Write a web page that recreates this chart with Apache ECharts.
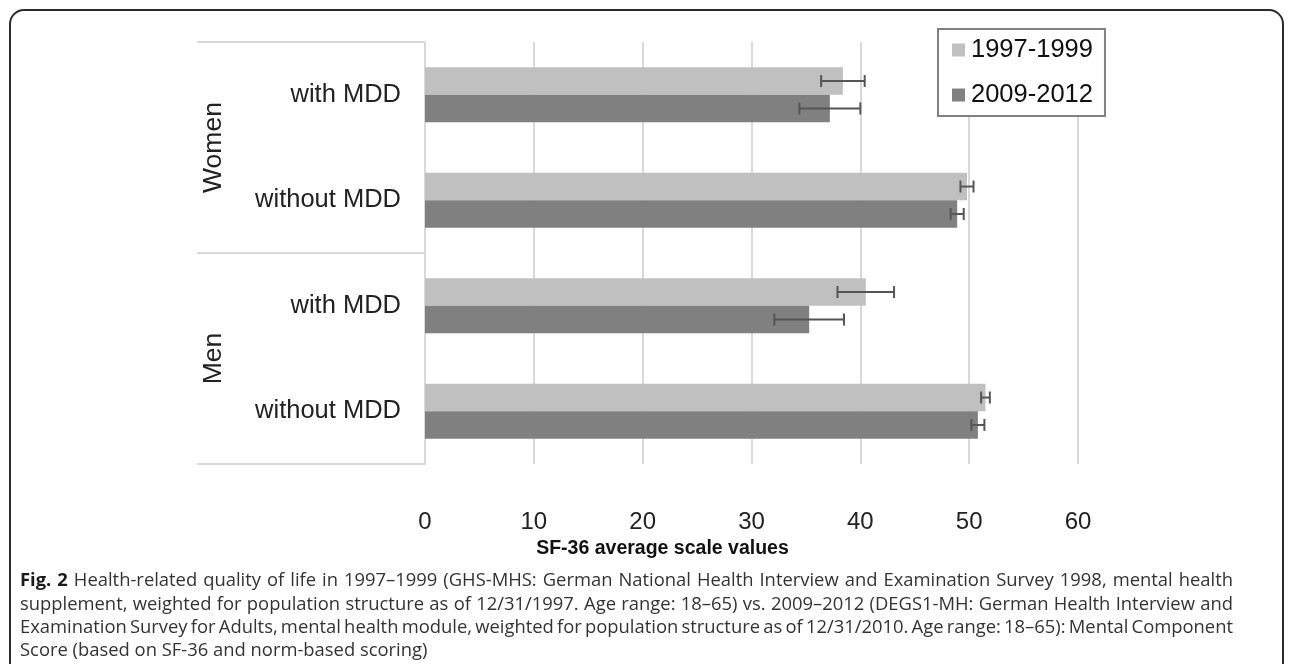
<!DOCTYPE html>
<html>
<head>
<meta charset="utf-8">
<script src="https://cdn.jsdelivr.net/npm/echarts@6/dist/echarts.min.js"></script>
<style>html,body{margin:0;padding:0;background:#fff;}#c{width:1290px;height:664px;}</style>
</head>
<body>
<div id="c"></div>
<script>
var categories = ['with MDD', 'without MDD', 'with MDD', 'without MDD'];
var groups = ['Women', 'Men'];
var seriesNames = ['1997-1999', '2009-2012'];
var v1997 = [38.4, 49.8, 40.5, 51.5];
var e1997 = [2.0, 0.6, 2.6, 0.4];
var v2009 = [37.2, 48.9, 35.3, 50.8];
var e2009 = [2.8, 0.6, 3.2, 0.6];
var xTicks = [0, 10, 20, 30, 40, 50, 60];

var captionLines = [
  'Fig. 2 Health-related quality of life in 1997–1999 (GHS-MHS: German National Health Interview and Examination Survey 1998, mental health',
  'supplement, weighted for population structure as of 12/31/1997. Age range: 18–65) vs. 2009–2012 (DEGS1-MH: German Health Interview and',
  'Examination Survey for Adults, mental health module, weighted for population structure as of 12/31/2010. Age range: 18–65): Mental Component',
  'Score (based on SF-36 and norm-based scoring)'
];
var captionBoldWords = 2; // "Fig." and "2" on the first line

var FONT = '"Liberation Sans", Arial, sans-serif';
var CAP_FONT_FAMILY = '"Open Sans", sans-serif';
var CAP_SIZE = 18.4;
var BAND_FRAC = 0.26;

function errData(vals, errs) {
  return vals.map(function (v, i) { return [v - errs[i], v + errs[i], i]; });
}
function errRender(sign) {
  return function (params, api) {
    var lo = api.coord([api.value(0), api.value(2)]);
    var hi = api.coord([api.value(1), api.value(2)]);
    var band = api.size([0, 1])[1];
    var y = lo[1] + sign * band * BAND_FRAC / 2;
    var cap = 6;
    var st = { stroke: '#555', lineWidth: 2 };
    return {
      type: 'group',
      children: [
        { type: 'line', shape: { x1: lo[0], y1: y, x2: hi[0], y2: y }, style: st },
        { type: 'line', shape: { x1: lo[0], y1: y - cap, x2: lo[0], y2: y + cap }, style: st },
        { type: 'line', shape: { x1: hi[0], y1: y - cap, x2: hi[0], y2: y + cap }, style: st }
      ]
    };
  };
}

// justified caption: words placed as separate text pieces
var measureCtx = document.createElement('canvas').getContext('2d');
function fontStr(bold) { return (bold ? 'bold ' : '') + CAP_SIZE + 'px ' + CAP_FONT_FAMILY; }
function wordWidth(w, bold) { measureCtx.font = fontStr(bold); return measureCtx.measureText(w).width; }

var graphics = [
  { type: 'rect', shape: { x: 10, y: 10, width: 1273, height: 720, r: 14 },
    style: { fill: 'none', stroke: '#2b2b2b', lineWidth: 2 }, silent: true }
];
var CAP_LEFT = 20, CAP_RIGHT = 1233;
captionLines.forEach(function (line, li) {
  var words = line.split(' ');
  var bolds = words.map(function (w, wi) { return li === 0 && wi < captionBoldWords; });
  var widths = words.map(function (w, wi) { return wordWidth(w, bolds[wi]); });
  var total = widths.reduce(function (a, b) { return a + b; }, 0);
  var justify = li < captionLines.length - 1;
  var gap = justify ? (CAP_RIGHT - CAP_LEFT - total) / (words.length - 1) : wordWidth(' ', false);
  var x = CAP_LEFT;
  words.forEach(function (w, wi) {
    graphics.push({
      type: 'text', x: x, y: 581 + li * 23.3, silent: true,
      style: { text: w, font: fontStr(bolds[wi]), fill: bolds[wi] ? '#1a1a1a' : '#333',
        verticalAlign: 'middle' }
    });
    x += widths[wi] + gap;
  });
});

var chart = echarts.init(document.getElementById('c'));
chart.setOption({
  animation: false,
  textStyle: { fontFamily: FONT },
  grid: { left: 425, right: 212, top: 42, bottom: 200 },
  legend: {
    data: seriesNames,
    orient: 'vertical', left: 938, top: 29,
    backgroundColor: '#fff', borderColor: '#808080', borderWidth: 2,
    padding: [8, 12, 8, 14], itemGap: 19,
    icon: 'rect', itemWidth: 13, itemHeight: 13,
    textStyle: { fontSize: 25.5, color: '#111', fontFamily: FONT, padding: [0, 0, 0, 1] },
    z: 10
  },
  xAxis: {
    type: 'value', min: 0, max: 60, interval: 10,
    axisLine: { show: false }, axisTick: { show: false },
    splitLine: { show: true, lineStyle: { color: '#d9d9d9', width: 2 } },
    axisLabel: { fontSize: 24, color: '#222', margin: 46, fontFamily: FONT,
      customValues: xTicks },
    name: 'SF-36 average scale values', nameLocation: 'middle', nameGap: 72,
    nameTextStyle: { fontSize: 19.5, fontWeight: 'bold', color: '#111', fontFamily: FONT,
      padding: [0, 178, 0, 0] }
  },
  yAxis: [
    {
      type: 'category', data: categories, inverse: true,
      axisLine: { show: true, lineStyle: { color: '#d9d9d9', width: 2 } },
      axisTick: { show: false },
      axisLabel: { fontSize: 25.5, color: '#222', margin: 24, fontFamily: FONT }
    },
    {
      type: 'category', data: groups, inverse: true, position: 'left', offset: 0,
      axisLine: { show: false },
      axisTick: { show: true, length: 228, lineStyle: { color: '#d9d9d9', width: 2 } },
      axisLabel: { fontSize: 26.5, color: '#222', rotate: 90, margin: 211, fontFamily: FONT,
        align: 'center', verticalAlign: 'middle' }
    }
  ],
  series: [
    { name: seriesNames[0], type: 'bar', data: v1997, barGap: '0%', barCategoryGap: '48%',
      itemStyle: { color: '#c0c0c0' }, z: 2 },
    { name: seriesNames[1], type: 'bar', data: v2009, barGap: '0%', barCategoryGap: '48%',
      itemStyle: { color: '#808080' }, z: 2 },
    { type: 'custom', renderItem: errRender(-1), data: errData(v1997, e1997),
      encode: { x: [0, 1], y: 2 }, z: 5 },
    { type: 'custom', renderItem: errRender(1), data: errData(v2009, e2009),
      encode: { x: [0, 1], y: 2 }, z: 5 }
  ],
  graphic: graphics
});
</script>
</body>
</html>
